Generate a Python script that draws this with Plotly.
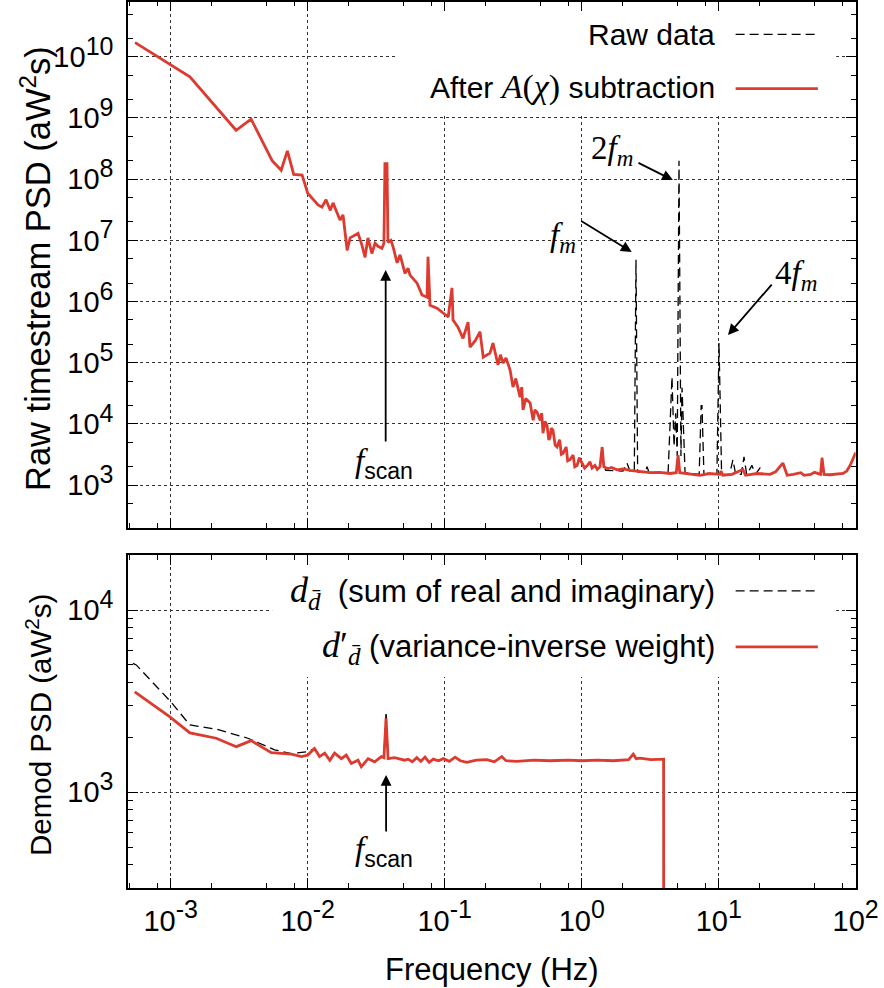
import plotly.graph_objects as go

# ---------------- data ----------------
# Top panel: "After A(chi) subtraction" (red)
top_red_freq = [5.5e-4, 1.38e-3, 3.0e-3, 3.86e-3, 5.5e-3, 6.4e-3, 7.1e-3, 7.9e-3, 9.1e-3, 1.0e-2,
                1.19e-2, 1.27e-2, 1.36e-2, 1.46e-2, 1.53e-2, 1.72e-2, 1.81e-2, 1.94e-2, 2.04e-2, 2.33e-2,
                2.49e-2, 2.62e-2, 2.75e-2, 2.94e-2, 3.10e-2, 3.26e-2, 3.48e-2, 3.60e-2, 3.66e-2, 3.79e-2,
                3.85e-2, 4.05e-2, 4.20e-2, 4.49e-2, 4.72e-2, 4.88e-2, 5.13e-2, 5.40e-2, 5.58e-2, 6.28e-2,
                6.83e-2, 7.43e-2, 7.55e-2, 7.81e-2, 8.79e-2, 0.106, 0.113, 0.115, 0.125, 0.136,
                0.148, 0.153, 0.167, 0.181, 0.191, 0.214, 0.225, 0.245, 0.255, 0.267,
                0.28, 0.30, 0.315, 0.33, 0.355, 0.365, 0.373, 0.39, 0.42, 0.442,
                0.455, 0.472, 0.497, 0.51, 0.522, 0.54, 0.558, 0.575, 0.587, 0.60,
                0.617, 0.64, 0.66, 0.69, 0.71, 0.73, 0.77, 0.79, 0.82, 0.865,
                0.89, 0.925, 0.96, 1.005, 1.05, 1.10, 1.15, 1.19, 1.25, 1.30,
                1.36, 1.41, 1.45, 1.55, 1.65, 1.81, 2.0, 2.25, 2.6, 3.16,
                3.7, 4.41, 4.9, 5.05, 5.2, 6.2, 7.3, 8.5, 10.2, 10.4,
                10.7, 12.5, 15.0, 15.7, 19.0, 23.7, 26.0, 29.4, 31.6, 35.0,
                39.7, 42.0, 46.9, 50.0, 55.4, 56.8, 58.7, 65.0, 72.0, 80.8,
                86.0, 91.0, 100.0]
top_red_psd = [1.7e10, 4.7e9, 6.3e8, 9.6e8, 2.0e8, 1.4e8, 2.9e8, 1.2e8, 1.17e8, 5.9e7,
               3.8e7, 3.5e7, 4.6e7, 3.1e7, 4.1e7, 2.15e7, 2.6e7, 6.9e6, 1.1e7, 1.3e7,
               8.3e6, 5.3e6, 1.1e7, 6.1e6, 9.0e6, 8.0e6, 7.4e6, 9.0e6, 1.8e8, 1.8e8,
               9.3e6, 1.0e7, 7.8e6, 4.3e6, 5.8e6, 4.4e6, 2.9e6, 3.5e6, 2.7e6, 2.0e6,
               1.28e6, 1.18e6, 5.4e6, 8.7e5, 7.8e5, 5.6e5, 1.67e6, 5.0e5, 3.8e5, 2.5e5,
               4.6e5, 1.8e5, 2.3e5, 3.2e5, 1.23e5, 1.44e5, 2.1e5, 9.2e4, 1.35e5, 9.9e4,
               1.2e5, 7.6e4, 4.0e4, 5.5e4, 2.75e4, 4.0e4, 1.7e4, 2.6e4, 2.2e4, 1.15e4,
               1.7e4, 1.55e4, 1.15e4, 1.5e4, 7.1e3, 1.1e4, 9.5e3, 5.5e3, 6.0e3, 8.5e3,
               7.9e3, 4.5e3, 4.2e3, 5.5e3, 3.2e3, 3.3e3, 4.2e3, 2.5e3, 2.6e3, 3.1e3,
               2.0e3, 2.1e3, 2.8e3, 2.3e3, 1.9e3, 2.1e3, 2.4e3, 1.9e3, 2.1e3, 1.8e3,
               2.0e3, 4.2e3, 2.0e3, 1.85e3, 1.95e3, 1.78e3, 1.85e3, 1.75e3, 1.7e3, 1.6e3,
               1.62e3, 1.55e3, 1.6e3, 3.1e3, 1.6e3, 1.52e3, 1.45e3, 1.55e3, 1.5e3, 1.7e3,
               1.45e3, 1.5e3, 1.8e3, 1.45e3, 1.55e3, 1.5e3, 1.65e3, 2.3e3, 1.45e3, 1.5e3,
               1.6e3, 1.45e3, 1.5e3, 1.62e3, 1.5e3, 2.8e3, 1.5e3, 1.48e3, 1.5e3, 1.55e3,
               1.7e3, 2.1e3, 3.4e3]

# Top panel: "Raw data" where it differs from the red curve (1.5 - 21 Hz)
raw_hf_freq = [1.5, 2.0, 2.14, 2.25, 2.42, 2.49, 2.56, 2.9, 3.0, 3.1,
               4.27, 4.56, 4.72, 4.85, 4.98, 5.13, 5.30, 5.40, 5.68, 7.2,
               7.45, 7.55, 7.8, 9.7, 10.05, 10.5, 12.0, 12.7, 13.3, 14.6,
               15.3, 16.0, 17.5, 18.5, 20.0, 21.0]
raw_hf_psd = [1.75e3, 1.7e3, 2.3e3, 1.7e3, 1.65e3, 4.8e6, 1.65e3, 1.6e3, 2.0e3, 1.6e3,
              1.55e3, 5.9e4, 4.3e3, 1.5e4, 3.0e3, 2.0e8, 3.0e3, 3.9e4, 1.6e3, 1.5e3,
              2.0e4, 2.0e4, 1.5e3, 1.5e3, 2.1e5, 1.5e3, 1.5e3, 2.6e3, 1.5e3, 1.5e3,
              2.9e3, 1.5e3, 2.1e3, 1.5e3, 1.9e3, 1.5e3]

# Bottom panel: d'_dbar (variance-inverse weight), red
dem_red_freq = [5.46e-4, 9.8e-4, 1.38e-3, 2.15e-3, 3.01e-3, 3.87e-3, 5.42e-3, 7.59e-3, 8.98e-3, 1.0e-2,
                1.12e-2, 1.22e-2, 1.33e-2, 1.45e-2, 1.57e-2, 1.76e-2, 1.91e-2, 2.08e-2, 2.33e-2, 2.46e-2,
                2.76e-2, 3.08e-2, 3.45e-2, 3.60e-2, 3.73e-2, 3.86e-2, 4.31e-2, 5.1e-2, 5.4e-2, 5.8e-2,
                6.25e-2, 6.7e-2, 7.18e-2, 7.7e-2, 8.26e-2, 9.0e-2, 9.77e-2, 0.108, 0.119, 0.13,
                0.145, 0.17, 0.203, 0.23, 0.261, 0.28, 0.336, 0.45, 0.587, 0.8,
                1.0, 1.3, 1.7, 2.2, 2.38, 2.5, 2.66, 3.2, 3.96, 3.97]
dem_red_psd = [3.56e3, 2.6e3, 2.12e3, 1.98e3, 1.78e3, 1.92e3, 1.65e3, 1.62e3, 1.57e3, 1.6e3,
               1.74e3, 1.57e3, 1.64e3, 1.5e3, 1.64e3, 1.53e3, 1.6e3, 1.44e3, 1.5e3, 1.38e3,
               1.53e3, 1.47e3, 1.57e3, 1.55e3, 2.55e3, 1.53e3, 1.55e3, 1.5e3, 1.52e3, 1.47e3,
               1.55e3, 1.48e3, 1.56e3, 1.46e3, 1.52e3, 1.49e3, 1.53e3, 1.48e3, 1.56e3, 1.49e3,
               1.46e3, 1.5e3, 1.51e3, 1.47e3, 1.57e3, 1.49e3, 1.48e3, 1.5e3, 1.49e3, 1.5e3,
               1.49e3, 1.5e3, 1.49e3, 1.51e3, 1.62e3, 1.53e3, 1.54e3, 1.51e3, 1.52e3, 1.0e2]

# Bottom panel: d_dbar (sum of real and imaginary), black dashed, where it differs
dem_blk_low_freq = [5.3e-4, 5.6e-4, 1.0e-3, 1.38e-3, 2.15e-3, 3.66e-3, 5.74e-3, 7.59e-3, 1.0e-2]
dem_blk_low_psd = [5.1e3, 5.0e3, 3.14e3, 2.34e3, 2.22e3, 1.98e3, 1.71e3, 1.63e3, 1.67e3]
dem_blk_peak_freq = 3.73e-2
dem_blk_peak_psd = 2.77e3

# tick labels
SUP = "<sup><span style='font-size:25px'>%s</span></sup>"
x_major = [1e-3, 1e-2, 1e-1, 1e0, 1e1, 1e2]
x_ticktext = ["10" + SUP % e for e in ["-3", "-2", "-1", "0", "1", "2"]]
ytop_major = [1e3, 1e4, 1e5, 1e6, 1e7, 1e8, 1e9, 1e10]
ytop_ticktext = ["10" + SUP % e for e in range(3, 11)]
ybot_major = [1e3, 1e4]
ybot_ticktext = ["10" + SUP % 3, "10" + SUP % 4]

# ---------------- derived series ----------------
raw_freq = [f for f in top_red_freq if f < 1.46] + raw_hf_freq + [f for f in top_red_freq if f > 21.0]
raw_psd = ([p for f, p in zip(top_red_freq, top_red_psd) if f < 1.46] + raw_hf_psd +
           [p for f, p in zip(top_red_freq, top_red_psd) if f > 21.0])

blk_freq = list(dem_blk_low_freq)
blk_psd = list(dem_blk_low_psd)
for f, p in zip(dem_red_freq, dem_red_psd):
    if f > 1.0e-2:
        blk_freq.append(f)
        blk_psd.append(dem_blk_peak_psd if f == dem_blk_peak_freq else p)

x_minor = [m * 10.0 ** e for e in range(-4, 2) for m in (2, 5, 8)]
ytop_minor = [m * 10.0 ** e for e in range(2, 11) for m in (2, 5)]
ybot_minor = [m * 10.0 ** e for e in range(2, 5) for m in range(2, 10)]

RED = "#dd3a30"
DASH = "9px,5px"
SANS = "Liberation Sans, Arial, sans-serif"
SERIF = "Liberation Serif, Times New Roman, serif"

fig = go.Figure()
fig.add_trace(go.Scatter(x=raw_freq, y=raw_psd, mode="lines", xaxis="x", yaxis="y",
                         line=dict(color="black", width=1.3, dash=DASH), showlegend=False))
fig.add_trace(go.Scatter(x=top_red_freq, y=top_red_psd, mode="lines", xaxis="x", yaxis="y",
                         line=dict(color=RED, width=2.8), showlegend=False))
fig.add_trace(go.Scatter(x=blk_freq, y=blk_psd, mode="lines", xaxis="x2", yaxis="y2",
                         line=dict(color="black", width=1.3, dash=DASH), showlegend=False))
fig.add_trace(go.Scatter(x=dem_red_freq, y=dem_red_psd, mode="lines", xaxis="x2", yaxis="y2",
                         line=dict(color=RED, width=2.8), showlegend=False))

XDOM = [128 / 884, 855.7 / 884]
common_ax = dict(type="log", showline=True, mirror="allticks", linecolor="black", linewidth=1.5,
                 ticks="inside", ticklen=10, tickwidth=1.2, tickcolor="black", automargin=False,
                 showgrid=True, gridcolor="#333333", gridwidth=1, griddash="dot", zeroline=False,
                 tickfont=dict(family=SANS, size=29, color="black"))

fig.update_layout(
    width=884, height=988, margin=dict(l=0, r=0, t=0, b=0, autoexpand=False),
    paper_bgcolor="white", plot_bgcolor="white", showlegend=False,
    xaxis=dict(common_ax, domain=XDOM, range=[-3.312, 2.0], anchor="y",
               tickvals=x_major, showticklabels=False,
               minor=dict(tickvals=x_minor, ticks="inside", ticklen=5, tickcolor="black", showgrid=False)),
    yaxis=dict(common_ax, domain=[1 - 528 / 988, 1 - 1.7 / 988], range=[2.30, 10.90], anchor="x",
               tickvals=ytop_major, ticktext=ytop_ticktext, ticklabelstandoff=7,
               minor=dict(tickvals=ytop_minor, ticks="inside", ticklen=5, tickcolor="black", showgrid=False)),
    xaxis2=dict(common_ax, domain=XDOM, range=[-3.312, 2.0], anchor="y2",
                tickvals=x_major, ticktext=x_ticktext, ticklabelstandoff=6,
                minor=dict(tickvals=x_minor, ticks="inside", ticklen=5, tickcolor="black", showgrid=False)),
    yaxis2=dict(common_ax, domain=[1 - 888 / 988, 1 - 555 / 988], range=[2.475, 4.302], anchor="x2",
                tickvals=ybot_major, ticktext=ybot_ticktext, ticklabelstandoff=7,
                minor=dict(tickvals=ybot_minor, ticks="inside", ticklen=5, tickcolor="black", showgrid=False)),
)

shapes = []
# legend boxes hiding the grid (drawn between grid and traces)
shapes.append(dict(type="rect", xref="x", yref="y", x0=0.0434, x1=72.0, y0=1.11e9, y1=8.0e10,
                   fillcolor="white", line=dict(width=0), layer="between"))
shapes.append(dict(type="rect", xref="x2", yref="y2", x0=5.5e-3, x1=72.0, y0=4.29e3, y1=2.0e4,
                   fillcolor="white", line=dict(width=0), layer="between"))
# legend samples
shapes.append(dict(type="line", xref="x domain", yref="y domain", x0=0.835, x1=0.948, y0=0.938, y1=0.938,
                   line=dict(color="black", width=1.3, dash=DASH)))
shapes.append(dict(type="line", xref="x domain", yref="y domain", x0=0.835, x1=0.948, y0=0.835, y1=0.835,
                   line=dict(color=RED, width=2.8)))
shapes.append(dict(type="line", xref="x2 domain", yref="y2 domain", x0=0.835, x1=0.948, y0=0.892, y1=0.892,
                   line=dict(color="black", width=1.3, dash=DASH)))
shapes.append(dict(type="line", xref="x2 domain", yref="y2 domain", x0=0.835, x1=0.948, y0=0.724, y1=0.724,
                   line=dict(color=RED, width=2.8)))
fig.update_layout(shapes=shapes)

ann = []
LF = dict(family=SANS, size=30, color="black")
LF2 = dict(family=SANS, size=31, color="black")
ser = "font-family:Liberation Serif;font-size:34px"
ser2 = "font-family:Liberation Serif;font-size:36px"
ann.append(dict(xref="x domain", yref="y domain", x=0.809, y=0.937, xanchor="right", yanchor="middle",
                text="Raw data", showarrow=False, font=LF))
ann.append(dict(xref="x domain", yref="y domain", x=0.809, y=0.838, xanchor="right", yanchor="middle",
                text="After <span style='%s'><i>A</i>(<i>χ</i>)</span> subtraction" % ser, showarrow=False, font=LF))
ann.append(dict(xref="x2 domain", yref="y2 domain", x=0.809, y=0.886, xanchor="right", yanchor="middle",
                text="<span style='%s'><i>d</i><sub><i>d\u0304</i></sub></span>  (sum of real and imaginary)" % ser2,
                showarrow=False, font=LF2))
ann.append(dict(xref="x2 domain", yref="y2 domain", x=0.809, y=0.721, xanchor="right", yanchor="middle",
                text="<span style='%s'><i>d</i>\u2032<sub><i>d\u0304</i></sub></span> (variance-inverse weight)" % ser2,
                showarrow=False, font=LF2))

# axis titles
ann.append(dict(xref="paper", yref="paper", x=36 / 884, y=1 - 269 / 988, xanchor="center", yanchor="middle",
                textangle=-90, text="Raw timestream PSD (aW<sup>2</sup>s)", showarrow=False,
                font=dict(family=SANS, size=34.5, color="black")))
ann.append(dict(xref="paper", yref="paper", x=38 / 884, y=1 - 725 / 988, xanchor="center", yanchor="middle",
                textangle=-90, text="Demod PSD (aW<sup>2</sup>s)", showarrow=False,
                font=dict(family=SANS, size=29.5, color="black")))
ann.append(dict(xref="paper", yref="paper", x=492 / 884, y=1 - 969 / 988, xanchor="center", yanchor="middle",
                text="Frequency (Hz)", showarrow=False, font=dict(family=SANS, size=31, color="black")))

# arrows (tip positions in log10 data units, tails as pixel offsets)
AR = dict(showarrow=True, arrowhead=2, arrowsize=1.2, arrowwidth=1.8, arrowcolor="black", text="",
          axref="pixel", ayref="pixel")
ann.append(dict(AR, xref="x", yref="y", x=0.365, y=6.81, ax=-52, ay=-32))
ann.append(dict(AR, xref="x", yref="y", x=0.666, y=7.985, ax=-36, ay=-18))
ann.append(dict(AR, xref="x", yref="y", x=1.068, y=5.453, ax=45, ay=-52))
ann.append(dict(AR, xref="x", yref="y", x=-1.431, y=6.515, ax=0, ay=173))
ann.append(dict(AR, xref="x2", yref="y2", x=-1.428, y=3.095, ax=0, ay=58))

MF = dict(family=SERIF, size=33, color="black")
ann.append(dict(xref="x", yref="y", x=-0.136, y=7.04, text="<i>f</i><sub><i>m</i></sub>", showarrow=False, font=MF))
ann.append(dict(xref="x", yref="y", x=0.222, y=8.47, text="2<i>f</i><sub><i>m</i></sub>", showarrow=False, font=MF))
ann.append(dict(xref="x", yref="y", x=1.565, y=6.43, text="4<i>f</i><sub><i>m</i></sub>", showarrow=False, font=MF))
ann.append(dict(xref="x", yref="y", x=-1.443, y=3.36,
                text="<i>f</i><sub><span style='font-family:Liberation Sans'>scan</span></sub>", showarrow=False, font=MF))
ann.append(dict(xref="x2", yref="y2", x=-1.443, y=2.673,
                text="<i>f</i><sub><span style='font-family:Liberation Sans'>scan</span></sub>", showarrow=False, font=MF))
fig.update_layout(annotations=ann)

fig.write_html("out.html")
